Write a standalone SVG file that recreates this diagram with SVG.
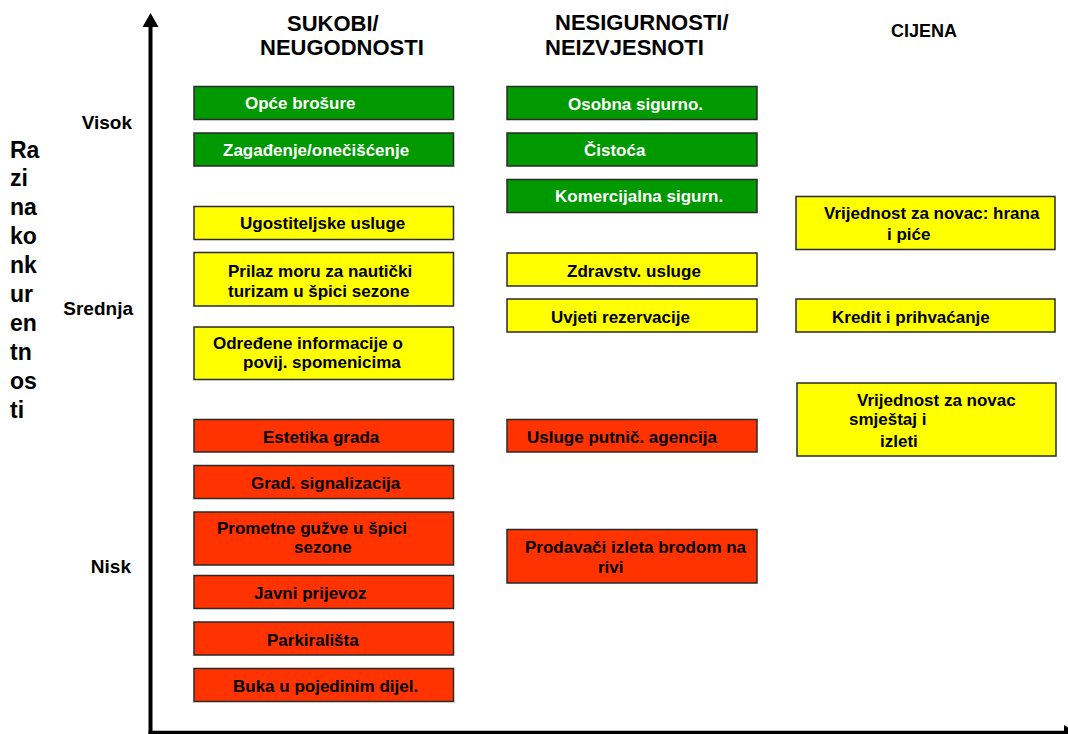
<svg xmlns="http://www.w3.org/2000/svg" width="1068" height="734" viewBox="0 0 1068 734">
<style>
text{font-family:"Liberation Sans",Arial,Helvetica,sans-serif;font-weight:bold;fill:#000}
.t{font-size:17px}
.w{fill:#fff}
.h{font-size:22px}
.c{font-size:18px}
.lv{font-size:19px;text-anchor:end}
.v{font-size:23px}
.g{fill:#009900;stroke:#2a2a2a;stroke-width:1.5}
.y{fill:#ffff00;stroke:#2a2a2a;stroke-width:1.5}
.r{fill:#ff3300;stroke:#2a2a2a;stroke-width:1.5}
</style>
<rect width="1068" height="734" fill="#fff"/>
<g id="axes">
<line x1="150.5" y1="26" x2="150.5" y2="734" stroke="#000" stroke-width="4"/>
<polygon points="150.5,13 158.5,27 142.5,27" fill="#000"/>
<line x1="148.5" y1="732.5" x2="1066" y2="732.5" stroke="#000" stroke-width="3.5"/>
<polygon points="1064,725 1076,732.5 1064,740" fill="#000"/>
</g>
<g id="headers">
<text class="h" x="287" y="31">SUKOBI/</text>
<text class="h" x="260" y="55">NEUGODNOSTI</text>
<text class="h" x="555" y="30">NESIGURNOSTI/</text>
<text class="h" x="545" y="55">NEIZVJESNOTI</text>
<text class="c" x="891" y="37">CIJENA</text>
</g>
<g id="axis-labels">
<text class="lv" x="132" y="129">Visok</text>
<text class="lv" x="133" y="315">Srednja</text>
<text class="lv" x="131" y="573">Nisk</text>
<g class="v">
<text class="v" x="10" y="158">Ra</text>
<text class="v" x="10" y="186">zi</text>
<text class="v" x="10" y="215">na</text>
<text class="v" x="10" y="244">ko</text>
<text class="v" x="10" y="273">nk</text>
<text class="v" x="10" y="302">ur</text>
<text class="v" x="10" y="331">en</text>
<text class="v" x="10" y="360">tn</text>
<text class="v" x="10" y="389">os</text>
<text class="v" x="10" y="418">ti</text>
</g>
</g>
<g id="n-opce"><rect class="g" x="194" y="86.5" width="259.5" height="33"/><text class="t w" x="245" y="109">Opće brošure</text></g>
<g id="n-zagadjenje"><rect class="g" x="194" y="133" width="259.5" height="33"/><text class="t w" x="223" y="156">Zagađenje/onečišćenje</text></g>
<g id="n-ugostiteljske"><rect class="y" x="194" y="206.5" width="259.5" height="33"/><text class="t" x="240" y="229">Ugostiteljske usluge</text></g>
<g id="n-prilaz"><rect class="y" x="194" y="252.5" width="259.5" height="53.5"/><text class="t" x="228" y="277">Prilaz moru za nautički</text><text class="t" x="228" y="297">turizam u špici sezone</text></g>
<g id="n-odredjene"><rect class="y" x="194" y="327" width="259.5" height="52.5"/><text class="t" x="213" y="349">Određene informacije o</text><text class="t" x="243" y="368">povij. spomenicima</text></g>
<g id="n-estetika"><rect class="r" x="194" y="419.5" width="259.5" height="32.5"/><text class="t" x="263" y="443">Estetika grada</text></g>
<g id="n-signalizacija"><rect class="r" x="194" y="465.5" width="259.5" height="33"/><text class="t" x="251" y="489">Grad. signalizacija</text></g>
<g id="n-prometne"><rect class="r" x="194" y="512" width="259.5" height="53"/><text class="t" x="217" y="534">Prometne gužve u špici</text><text class="t" x="294" y="553">sezone</text></g>
<g id="n-javni"><rect class="r" x="194" y="575.5" width="259.5" height="33"/><text class="t" x="254" y="599">Javni prijevoz</text></g>
<g id="n-parkiralista"><rect class="r" x="194" y="622" width="259.5" height="33"/><text class="t" x="267" y="646">Parkirališta</text></g>
<g id="n-buka"><rect class="r" x="194" y="668.5" width="259.5" height="33"/><text class="t" x="233" y="692">Buka u pojedinim dijel.</text></g>
<g id="n-osobna"><rect class="g" x="507" y="86.5" width="250" height="33"/><text class="t w" x="568" y="110">Osobna sigurno.</text></g>
<g id="n-cistoca"><rect class="g" x="507" y="133" width="250" height="33"/><text class="t w" x="584" y="156">Čistoća</text></g>
<g id="n-komercijalna"><rect class="g" x="507" y="179.5" width="250" height="33"/><text class="t w" x="555" y="202">Komercijalna sigurn.</text></g>
<g id="n-zdravstv"><rect class="y" x="507" y="253" width="250" height="33"/><text class="t" x="567" y="277">Zdravstv. usluge</text></g>
<g id="n-uvjeti"><rect class="y" x="507" y="299" width="250" height="33"/><text class="t" x="551" y="323">Uvjeti rezervacije</text></g>
<g id="n-usluge"><rect class="r" x="507" y="419.5" width="250" height="32.5"/><text class="t" x="527" y="443">Usluge putnič. agencija</text></g>
<g id="n-prodavaci"><rect class="r" x="507" y="529.5" width="250" height="53.5"/><text class="t" x="525" y="553">Prodavači izleta brodom na</text><text class="t" x="598" y="573">rivi</text></g>
<g id="n-hrana"><rect class="y" x="796" y="196.5" width="259" height="53"/><text class="t" x="824" y="219">Vrijednost za novac: hrana</text><text class="t" x="887" y="240">i piće</text></g>
<g id="n-kredit"><rect class="y" x="796" y="299" width="259" height="33"/><text class="t" x="832" y="323">Kredit i prihvaćanje</text></g>
<g id="n-smjestaj"><rect class="y" x="797" y="383" width="259" height="73"/><text class="t" x="857" y="406">Vrijednost za novac</text><text class="t" x="849" y="425">smještaj i</text><text class="t" x="880" y="447">izleti</text></g>
</svg>
